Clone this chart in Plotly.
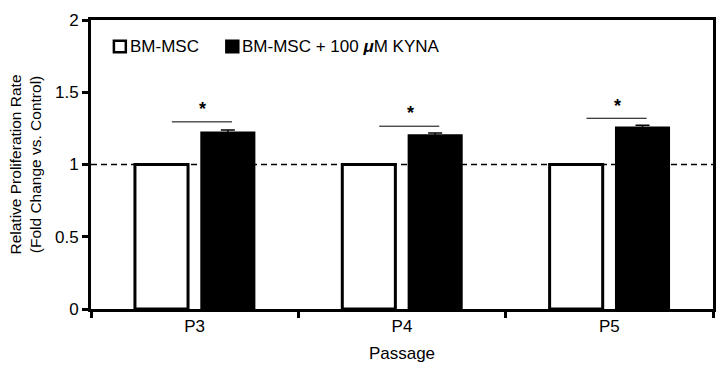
import plotly.graph_objects as go

categories = ["P3", "P4", "P5"]
control = [1.0, 1.0, 1.0]
kyna = [1.222, 1.202, 1.256]
kyna_err = [0.016, 0.016, 0.016]
sig_y = [1.295, 1.265, 1.32]
series_names = ["BM-MSC", "BM-MSC + 100 <b><i>μ</i></b>M KYNA"]
series_fill = ["white", "black"]

font = "Liberation Sans, Arial, sans-serif"

fig = go.Figure()
fig.add_trace(go.Bar(
    x=categories, y=control, name=series_names[0], showlegend=False,
    marker=dict(color=series_fill[0], line=dict(color="black", width=3)),
))
fig.add_trace(go.Bar(
    x=categories, y=kyna, name=series_names[1], showlegend=False,
    marker=dict(color=series_fill[1], line=dict(color="black", width=2)),
    error_y=dict(type="data", array=kyna_err, visible=True, color="black", thickness=1.5, width=7),
))

# reference dashed line at 1
fig.add_shape(type="line", xref="paper", yref="y", x0=0, x1=1, y0=1, y1=1,
              line=dict(color="black", width=1.5, dash="6px,4px"), layer="below")

# significance lines and stars
for i, cat in enumerate(categories):
    fig.add_shape(type="line", xref="x", yref="y", x0=i - 0.11, x1=i + 0.18,
                  y0=sig_y[i], y1=sig_y[i], line=dict(color="black", width=1))
    fig.add_annotation(x=i + 0.04, y=sig_y[i] + 0.005, xref="x", yref="y", text="<b>*</b>",
                       showarrow=False, yanchor="bottom", font=dict(size=18, color="black", family=font))

# legend (drawn manually for tight symbol/text spacing)
leg_sq_x = [0.0368, 0.2176]
leg_txt_x = [0.0592, 0.2400]
for k in range(2):
    fig.add_shape(type="rect", xref="paper", yref="paper",
                  x0=leg_sq_x[k], x1=leg_sq_x[k] + 0.0192, y0=0.888, y1=0.9286,
                  fillcolor=series_fill[k], line=dict(color="black", width=2.5))
    fig.add_annotation(x=leg_txt_x[k], y=0.908, xref="paper", yref="paper", text=series_names[k],
                       showarrow=False, xanchor="left", yanchor="middle",
                       font=dict(size=17, color="black", family=font))

fig.update_layout(
    width=727, height=371,
    margin=dict(l=91, r=11, t=15, b=62),
    plot_bgcolor="white", paper_bgcolor="white",
    barmode="group", bargap=0.36, bargroupgap=0.2,
    font=dict(family=font, size=16, color="black"),
    showlegend=False,
)
fig.update_xaxes(
    showline=True, linecolor="black", linewidth=3, mirror=True,
    ticks="outside", tickson="boundaries", ticklen=6, tickwidth=3, tickcolor="black",
    title=dict(text="Passage", font=dict(size=17), standoff=12),
    tickfont=dict(size=17),
)
fig.update_yaxes(
    range=[0, 2], dtick=0.5, showgrid=False, zeroline=False,
    showline=True, linecolor="black", linewidth=3, mirror=True,
    ticks="outside", ticklen=6, tickwidth=3, tickcolor="black",
    tickfont=dict(size=17),
    title=dict(text="Relative Proliferation Rate<br>(Fold Change vs. Control)", font=dict(size=15.5), standoff=10),
)

fig.write_html("out.html")
